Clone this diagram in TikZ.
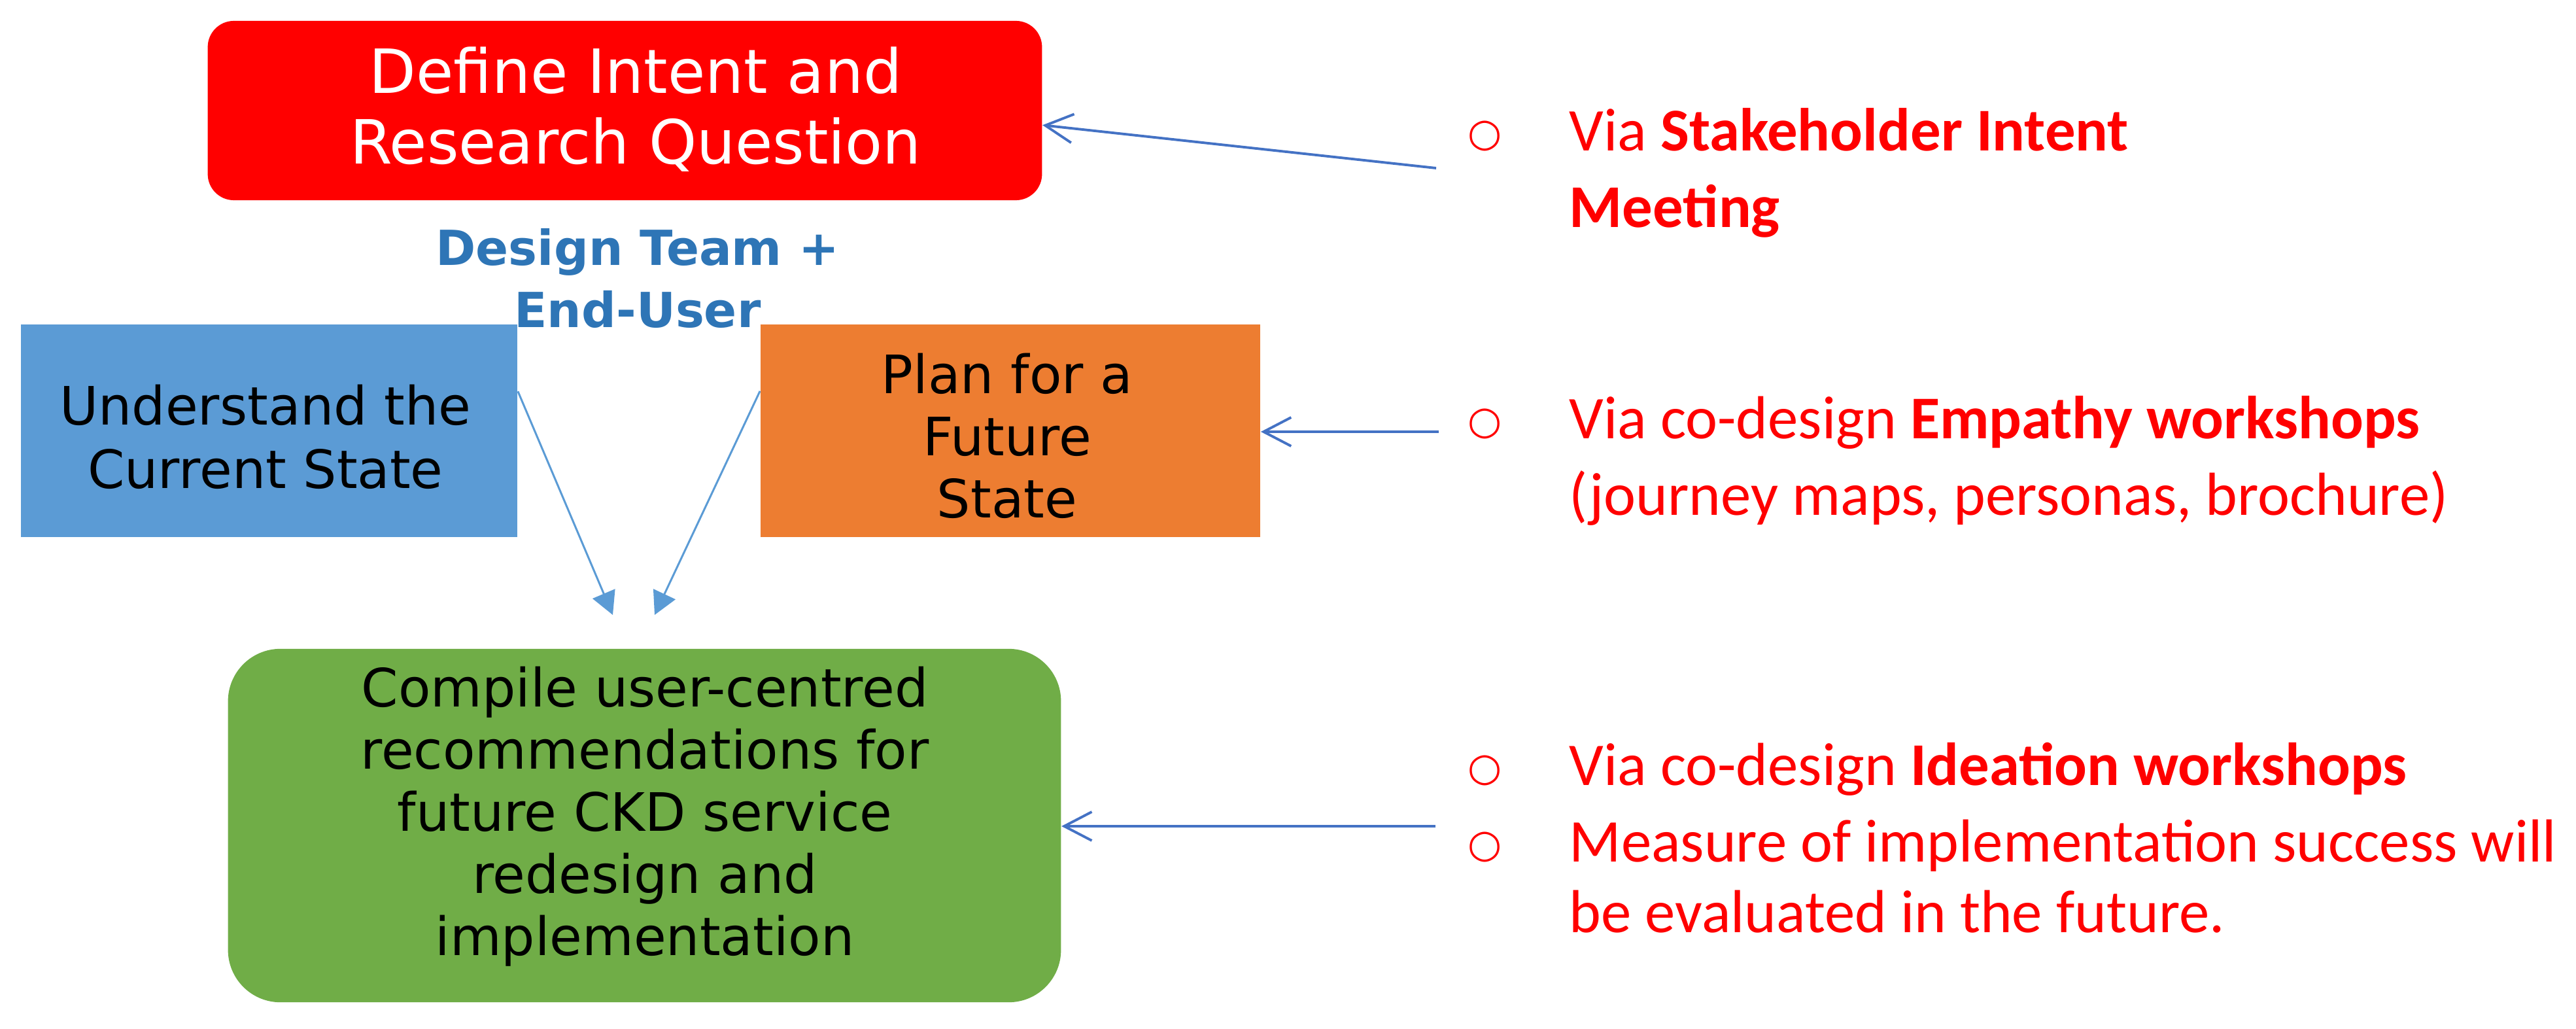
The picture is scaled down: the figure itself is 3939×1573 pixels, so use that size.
\documentclass[tikz,border=0pt]{standalone}
\usepackage{fontspec}
\setmainfont{Carlito}
\newfontfamily\boxfont{DejaVu Sans}
\newfontfamily\bulfont{DejaVu Sans}
\usetikzlibrary{arrows.meta}
\definecolor{redfill}{HTML}{FF0000}
\definecolor{bluefill}{HTML}{5B9BD5}
\definecolor{orangefill}{HTML}{ED7D31}
\definecolor{greenfill}{HTML}{70AD47}
\definecolor{teamblue}{HTML}{2E75B6}
\definecolor{arrowblue}{HTML}{4472C4}
\definecolor{arrowlight}{HTML}{5B9BD5}
\definecolor{txtred}{HTML}{FF0000}
\tikzset{
  box/.style={draw=none, inner sep=0pt},
  boxtext/.style={inner sep=0pt, align=center, anchor=north},
  rtext/.style={inner sep=0pt, align=left, anchor=north west, text=txtred,
    font=\fontsize{26.4}{33.3}\selectfont},
  bullet/.style={inner sep=0pt, anchor=center, text=txtred,
    font=\bulfont\fontsize{17}{20}\selectfont},
  down/.style={draw=arrowlight, line width=0.85pt, -{Triangle[length=10pt,width=10.5pt]}},
  barb/.style={draw=arrowblue, line width=1.1pt, -{Straight Barb[length=12pt,width=12.5pt]}}
}
\begin{document}
\begin{tikzpicture}[x=0.01cm, y=-0.01cm]
\useasboundingbox (0,0) rectangle (3939,1573);
% boxes
\node[box, fill=redfill, rounded corners=0.4cm, minimum width=12.75cm, minimum height=2.74cm] (redbox) at (955.5,169) {};
\node[box, fill=bluefill, minimum width=7.59cm, minimum height=3.25cm] (bluebox) at (411.5,658.5) {};
\node[box, fill=orangefill, minimum width=7.64cm, minimum height=3.25cm] (orangebox) at (1545,658.5) {};
\node[box, fill=greenfill, rounded corners=0.8cm, minimum width=12.73cm, minimum height=5.40cm] (greenbox) at (985.5,1262) {};
% box texts
\node[boxtext, text=white, font=\boxfont\fontsize{26.5}{30.7}\selectfont] (redtxt) at (972,66.4)
  {\strut Define Intent and\\\strut Research Question};
\node[boxtext, text=teamblue, font=\boxfont\bfseries\fontsize{21}{27}\selectfont] (team) at (975,338.5)
  {\strut Design Team +\\\strut End-User};
\node[boxtext, text=black, font=\boxfont\fontsize{23}{27.6}\selectfont] (bluetxt) at (406,581)
  {\strut Understand the\\\strut Current State};
\node[boxtext, text=black, font=\boxfont\fontsize{23}{26.9}\selectfont] (orangetxt) at (1540,535)
  {\strut Plan for a\\\strut Future\\\strut State};
\node[boxtext, text=black, font=\boxfont\fontsize{23}{27}\selectfont] (greentxt) at (986,1013.5)
  {\strut Compile user-centred\\\strut recommendations for\\\strut future CKD service\\\strut redesign and\\\strut implementation};
% arrows into green box
\coordinate (t1) at (937,940);
\coordinate (t2) at (1001,940);
\draw[down] (bluebox.9.5) -- (t1);
\draw[down] (orangebox.171.4) -- (t2);
% right-hand bullets
\node[bullet] (b1) at (2271,208) {○};
\node[bullet] (b2) at (2271,648) {○};
\node[bullet] (b3) at (2271,1178) {○};
\node[bullet] (b4) at (2271,1295) {○};
\node[rtext] (p1) at (2399,148) {\strut Via \textbf{Stakeholder Intent}\\\strut\textbf{Meeting}};
\node[rtext] (p2) at (2399,588) {\strut Via co-design \textbf{Empathy workshops}\\\strut(journey maps, personas, brochure)};
\node[rtext] (p3) at (2399,1118) {\strut Via co-design \textbf{Ideation workshops}};
\node[rtext, font=\fontsize{26.4}{30.7}\selectfont] (p4) at (2399,1241.4) {\strut Measure of implementation success will\\\strut be evaluated in the future.};
% arrows from the right
\coordinate (s1) at (2196,257);
\coordinate (s2) at (2200,660);
\coordinate (s3) at (2195,1263);
\draw[barb] (s1) -- (redbox.-2.8);
\draw[barb] (s2) -- (orangebox.east |- s2);
\draw[barb] (s3) -- (greenbox.east |- s3);
\end{tikzpicture}
\end{document}
